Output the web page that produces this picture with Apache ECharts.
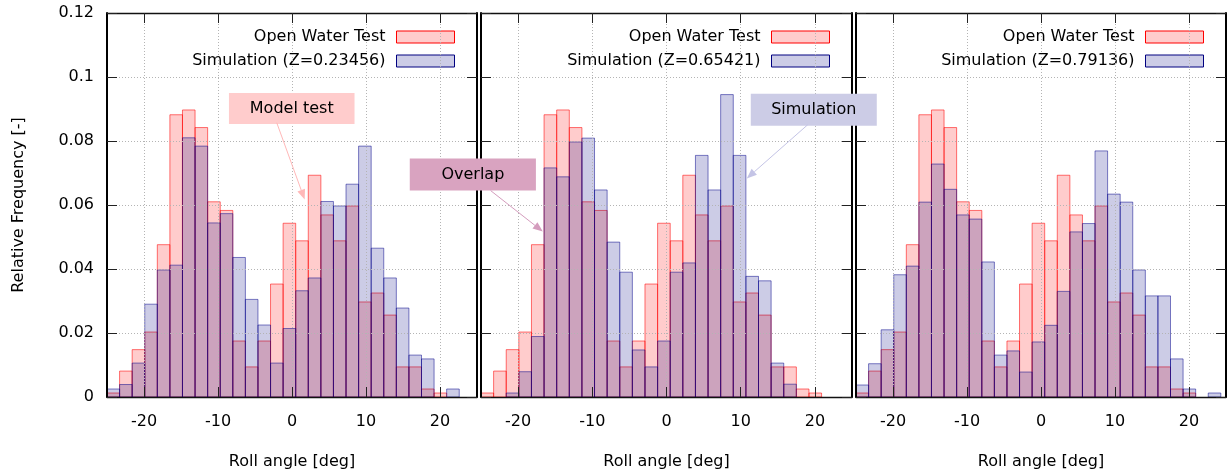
<!DOCTYPE html>
<html><head><meta charset="utf-8">
<script src="https://cdn.jsdelivr.net/npm/echarts@6/dist/echarts.min.js"></script>
<style>html,body{margin:0;padding:0;background:#fff}#c{width:1227px;height:475px}</style>
</head><body><div id="c"></div><script>
// ---- data ----
const binStart = [-25.0, -23.3, -21.6, -19.9, -18.2, -16.5, -14.8, -13.1, -11.4, -9.7, -8.0, -6.3, -4.6, -2.9, -1.2, 0.5, 2.2, 3.9, 5.6, 7.3, 9.0, 10.7, 12.4, 14.1, 15.8, 17.5, 19.2, 20.9, 22.6];
const binWidth = 1.7;
const openWater = [0.00125, 0.0081, 0.0148, 0.0203, 0.0476, 0.0882, 0.0897, 0.0842, 0.061, 0.0583, 0.0175, 0.0094, 0.0175, 0.0353, 0.0543, 0.0488, 0.0693, 0.0569, 0.0488, 0.0597, 0.0297, 0.0325, 0.0256, 0.0094, 0.0094, 0.0025, 0.00125, 0, 0];
const sim1 = [0.0025, 0.0039, 0.0106, 0.029, 0.0397, 0.0412, 0.081, 0.0784, 0.0544, 0.0573, 0.0436, 0.0305, 0.0225, 0.0106, 0.0214, 0.0332, 0.0372, 0.0611, 0.0597, 0.0665, 0.0784, 0.0465, 0.0372, 0.0278, 0.0131, 0.0119, 0, 0.0025, 0];
const sim2 = [0, 0, 0.00125, 0.0079, 0.0189, 0.0716, 0.0688, 0.0797, 0.0809, 0.0647, 0.0484, 0.039, 0.0147, 0.0094, 0.0175, 0.039, 0.0419, 0.0755, 0.0647, 0.0945, 0.0755, 0.0377, 0.0363, 0.0106, 0.004, 0, 0, 0, 0];
const sim3 = [0.00375, 0.0104, 0.021, 0.0382, 0.0409, 0.0609, 0.0728, 0.0649, 0.0569, 0.0556, 0.0422, 0.0131, 0.0144, 0.0078, 0.0172, 0.0224, 0.033, 0.0516, 0.0542, 0.0769, 0.0634, 0.0609, 0.0397, 0.0316, 0.0316, 0.0119, 0.0025, 0, 0.00125];
const simNames = ['Simulation (Z=0.23456)', 'Simulation (Z=0.65421)', 'Simulation (Z=0.79136)'];
const simData = [sim1, sim2, sim3];
const obsName = 'Open Water Test';
const xTicks = [-20, -10, 0, 10, 20];
const yTicks = [0, 0.02, 0.04, 0.06, 0.08, 0.1, 0.12];
const xTitle = 'Roll angle [deg]';
const yTitle = 'Relative Frequency [-]';

// ---- styling ----
const FONT = 'DejaVu Sans';
const redFill = 'rgba(255,0,0,0.2)', redStroke = 'rgba(255,0,0,0.55)';
const blueFill = 'rgba(0,0,128,0.2)', blueStroke = 'rgba(0,0,139,0.5)';
const gridsPx = [
  {left: 107, top: 13, width: 370, height: 385},
  {left: 481, top: 13, width: 371, height: 385},
  {left: 856, top: 13, width: 370, height: 385}
];
const legendRight = [772, 397, 23];

function toPairs(vals) {
  const out = [];
  vals.forEach((v, i) => { if (v > 0) out.push([binStart[i], v]); });
  return out;
}
function makeRender(fill, stroke) {
  return function (params, api) {
    const x0 = api.value(0), v = api.value(1);
    const a = api.coord([x0, v]);
    const b = api.coord([x0 + binWidth, 0]);
    return {type: 'rect', shape: {x: a[0], y: a[1], width: b[0] - a[0], height: b[1] - a[1]},
      style: {fill: fill, stroke: stroke, lineWidth: 1}};
  };
}

const xAxes = [], yAxes = [], series = [], legends = [];
gridsPx.forEach((g, i) => {
  const tickStyle = {color: '#222', width: 1};
  xAxes.push({gridIndex: i, type: 'value', min: -25, max: 25, position: 'bottom', z: 10,
    axisLine: {show: true, onZero: false, lineStyle: {color: '#111', width: 1.3}},
    axisTick: {show: true, inside: true, length: 10, customValues: xTicks, lineStyle: tickStyle},
    axisLabel: {customValues: xTicks, margin: 17, fontSize: 16, color: '#000', fontFamily: FONT},
    splitLine: {show: false},
    name: xTitle, nameLocation: 'middle', nameGap: 57,
    nameTextStyle: {fontSize: 16, color: '#000', fontFamily: FONT}});
  xAxes.push({gridIndex: i, type: 'value', min: -25, max: 25, position: 'top', z: 10,
    axisLine: {show: true, onZero: false, lineStyle: {color: '#111', width: 1.3}},
    axisTick: {show: true, inside: true, length: 10, customValues: xTicks, lineStyle: tickStyle},
    axisLabel: {show: false}, splitLine: {show: false}});
  yAxes.push({gridIndex: i, type: 'value', min: 0, max: 0.12, interval: 0.02, position: 'left', z: 10,
    axisLine: {show: true, onZero: false, lineStyle: {color: '#000', width: 2}},
    axisTick: {show: true, inside: true, length: 10, lineStyle: tickStyle},
    axisLabel: {show: i === 0, margin: 13, fontSize: 16, color: '#000', fontFamily: FONT,
      formatter: v => String(Math.round(v * 100) / 100)},
    splitLine: {show: false},
    name: i === 0 ? yTitle : '', nameLocation: 'middle', nameGap: 80, nameRotate: 90,
    nameTextStyle: {fontSize: 16, color: '#000', fontFamily: FONT}});
  yAxes.push({gridIndex: i, type: 'value', min: 0, max: 0.12, interval: 0.02, position: 'right', z: 10,
    axisLine: {show: true, onZero: false, lineStyle: {color: '#000', width: 2}},
    axisTick: {show: true, inside: true, length: 10, lineStyle: tickStyle},
    axisLabel: {show: false}, splitLine: {show: false}});
  // grid lines (behind bars)
  series.push({type: 'line', xAxisIndex: 2 * i, yAxisIndex: 2 * i, data: [], z: 1, silent: true,
    markLine: {silent: true, symbol: ['none', 'none'], animation: false, label: {show: false},
      lineStyle: {color: '#b4b4b4', type: [1, 2], width: 1},
      data: xTicks.map(v => ({xAxis: v})).concat(yTicks.slice(1, -1).map(v => ({yAxis: v})))}});
  series.push({type: 'custom', name: obsName, xAxisIndex: 2 * i, yAxisIndex: 2 * i, z: 2,
    itemStyle: {color: '#ffcccc', borderColor: '#ff0000'},
    renderItem: makeRender(redFill, redStroke), encode: {x: 0, y: 1}, data: toPairs(openWater), clip: true});
  series.push({type: 'custom', name: simNames[i], xAxisIndex: 2 * i, yAxisIndex: 2 * i, z: 3,
    itemStyle: {color: '#ccccE6', borderColor: '#000080'},
    renderItem: makeRender(blueFill, blueStroke), encode: {x: 0, y: 1}, data: toPairs(simData[i]), clip: true});
  legends.push({orient: 'vertical', align: 'right', right: legendRight[i], top: 28, padding: 0,
    itemWidth: 58, itemHeight: 12, itemGap: 6, selectedMode: false,
    textStyle: {fontSize: 16, color: '#000', fontFamily: FONT, lineHeight: 18, padding: [0, 6, 0, 0]},
    data: [
      {name: obsName, icon: 'rect', itemStyle: {color: '#ffcccc', borderColor: '#ff0000', borderWidth: 1}},
      {name: simNames[i], icon: 'rect', itemStyle: {color: '#ccccE6', borderColor: '#000080', borderWidth: 1}}
    ]});
});

const chart = echarts.init(document.getElementById('c'), null, {renderer: 'canvas'});
chart.setOption({
  animation: false,
  backgroundColor: '#fff',
  textStyle: {fontFamily: FONT},
  grid: gridsPx,
  xAxis: xAxes,
  yAxis: yAxes,
  legend: legends,
  series: series
});

// ---- annotations (in data coordinates of a panel) ----
const annotations = [
  {text: 'Model test', grid: 0, box: [-8.52, 0.0950, 8.45, 0.0853], from: [-2.06, 0.0857], to: [1.71, 0.0617], fill: '#ffcccc', arrow: '#ffb8b8'},
  {text: 'Overlap', grid: 1, box: [-34.6, 0.0745, -17.6, 0.0645], from: [-23.7, 0.0645], to: [-16.67, 0.0517], fill: '#d9a3c0', arrow: '#d49cbd'},
  {text: 'Simulation', grid: 1, box: [11.36, 0.0948, 28.34, 0.0848], from: [19.04, 0.0851], to: [10.82, 0.0683], fill: '#ccccE6', arrow: '#c4c4e6'}
];
const graphics = [];
annotations.forEach(a => {
  const p0 = chart.convertToPixel({gridIndex: a.grid}, [a.box[0], a.box[1]]);
  const p1 = chart.convertToPixel({gridIndex: a.grid}, [a.box[2], a.box[3]]);
  graphics.push({type: 'rect', z: 100, shape: {x: p0[0], y: p0[1], width: p1[0] - p0[0], height: p1[1] - p0[1]}, style: {fill: a.fill}});
  graphics.push({type: 'text', z: 101, style: {text: a.text, x: (p0[0] + p1[0]) / 2, y: (p0[1] + p1[1]) / 2,
    font: '16px "DejaVu Sans"', fill: '#000', textAlign: 'center', textVerticalAlign: 'middle'}});
  const f = chart.convertToPixel({gridIndex: a.grid}, a.from);
  const t = chart.convertToPixel({gridIndex: a.grid}, a.to);
  const dx = t[0] - f[0], dy = t[1] - f[1], L = Math.hypot(dx, dy), ux = dx / L, uy = dy / L;
  const hl = 10, hw = 4;
  const bx = t[0] - ux * hl, by = t[1] - uy * hl;
  graphics.push({type: 'line', z: 100, shape: {x1: f[0], y1: f[1], x2: bx, y2: by}, style: {stroke: a.arrow, lineWidth: 1}});
  graphics.push({type: 'polygon', z: 100, shape: {points: [[t[0], t[1]], [bx - uy * hw, by + ux * hw], [bx + uy * hw, by - ux * hw]]}, style: {fill: a.arrow}});
});
chart.setOption({graphic: graphics});
</script></body></html>
